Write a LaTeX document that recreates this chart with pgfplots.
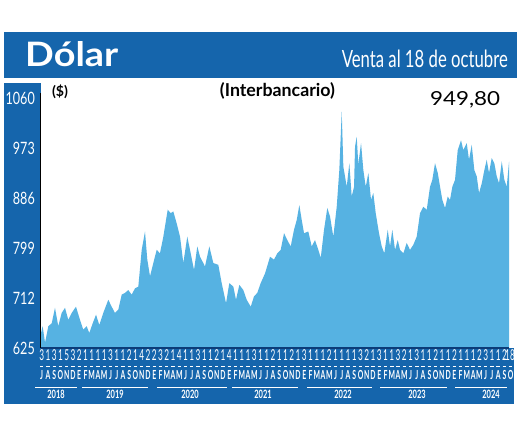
\documentclass[border=0pt]{standalone}
\usepackage{fontspec}
\setmainfont{Lato}
\usepackage{graphicx}
\usepackage{pgfplots}
\pgfplotsset{compat=1.18}
\newfontfamily\ylabfont{Lato}[FakeStretch=0.74]
\newfontfamily\rowfont{Lato}[FakeStretch=0.55]
\newfontfamily\yearfont{Lato}[FakeStretch=0.65]
\definecolor{bandblue}{RGB}{21,101,172}
\definecolor{areablue}{RGB}{86,178,226}
\definecolor{navyline}{RGB}{12,60,120}
\begin{document}
\begin{tikzpicture}
\path[use as bounding box, fill=white] (0,0) rectangle (520pt,-431pt);
\begin{scope}[x=1pt,y=-1pt]
 \fill[bandblue] (4,32) rectangle (517,77.5);
 \fill[bandblue] (3.5,82.5) rectangle (40.5,404);
 \fill[bandblue] (3.5,348) rectangle (514,404);
\end{scope}
\begin{axis}[at={(41pt,-348pt)}, anchor=south west, scale only axis,
  width=468pt, height=268pt, xmin=0, xmax=75.6, ymin=625, ymax=1092,
  xtick=\empty, ytick={625,712,799,886,973,1060},
  yticklabels={625,712,799,886,973,1060},
  yticklabel style={font=\ylabfont\fontsize{17}{17}\selectfont, text=white, inner sep=0pt, anchor=east, xshift=-6pt},
  major tick length=0pt, axis line style={draw=none}, clip=true]
\addplot[fill=areablue, draw=none] coordinates {
(0,651) (0.27,663) (0.65,634) (1.18,663) (1.73,668) (2.26,695) (2.79,663) (3.34,686)
(3.88,695) (4.41,674) (4.96,686) (5.65,697) (6.30,674) (6.83,657) (7.38,663) (7.80,651)
(8.35,668) (8.89,683) (9.42,665) (10.06,686) (10.87,709) (11.42,697) (11.95,686) (12.49,692)
(13.04,718) (13.57,721) (14.10,726) (14.65,718) (15.19,729) (15.72,732) (16.27,796) (16.80,828)
(17.17,779) (17.61,750) (18.14,773) (18.69,796) (19.22,790) (19.76,819) (20.47,866) (20.95,860)
(21.37,863) (21.92,842) (22.46,819) (22.99,773) (23.63,819) (24.07,796) (24.72,761) (25.25,802)
(25.69,784) (26.22,773) (26.49,767) (27.19,802) (27.84,773) (28.64,770) (29.19,738) (29.89,703)
(30.42,738) (31.07,732) (31.50,709) (32.04,735) (32.68,726) (33.23,709) (33.88,697) (34.41,715)
(34.94,721) (35.49,738) (36.19,755) (37.00,784) (37.64,779) (38.17,790) (38.72,796) (39.26,825)
(39.79,813) (40.34,802) (40.87,831) (41.31,848) (41.73,874) (42.12,848) (42.49,825) (43.18,828)
(43.73,802) (44.26,813) (44.80,796) (45.19,782) (45.72,831) (46.25,869) (46.69,854) (47.22,819)
(47.77,871) (48.19,935) (48.58,1037) (48.84,941) (49.39,906) (49.81,947) (50.19,889) (50.57,906)
(50.73,976) (51.00,993) (51.26,945) (51.70,982) (52.07,935) (52.46,906) (52.88,930) (53.31,883)
(53.68,895) (54.07,860) (54.60,825) (55.04,802) (55.46,790) (56.01,831) (56.38,802) (56.75,831)
(57.19,796) (57.63,813) (58.00,796) (58.53,790) (59.08,808) (59.61,796) (60.15,805) (60.69,819)
(61.23,860) (61.76,871) (62.31,866) (62.84,906) (63.21,918) (63.65,947) (64.09,930) (64.46,906)
(64.83,883) (65.27,869) (65.70,889) (66.07,883) (66.45,906) (66.88,918) (67.32,970) (67.85,987)
(68.22,970) (68.77,982) (69.14,953) (69.58,979) (70.00,935) (70.39,924) (70.76,895) (71.20,912)
(71.62,935) (72.00,953) (72.37,930) (72.81,956) (73.23,947) (73.62,924) (73.99,912) (74.43,950)
(74.85,918) (75.23,906) (75.61,949.8)
} \closedcycle;
\end{axis}
\begin{scope}[x=1pt,y=-1pt]
 \draw[black, line width=1pt] (40.8,93) -- (40.8,348);
 \draw[navyline, line width=1.5pt] (41,348) -- (509,348);
 \node[anchor=base west, inner sep=0, text=white] at (25,66.7) {\resizebox{93pt}{25pt}{\bfseries Dólar}};
 \node[anchor=base east, inner sep=0, text=white] at (508,67) {\resizebox{166pt}{17.5pt}{Venta al 18 de octubre}};
 \node[anchor=center, inner sep=0] at (60,91.5) {\resizebox{16pt}{!}{\bfseries (\$)}};
 \node[anchor=center, inner sep=0] at (277.5,91) {\resizebox{115pt}{!}{\bfseries (Interbancario)}};
 \node[anchor=base west, inner sep=0] at (430,106) {\resizebox{70pt}{14pt}{949,80}};
 % day row
 \foreach \d [count=\i from 0] in {3,1,3,1,5,3,
   2,1,1,1,1,3,1,1,2,1,4,2,
   2,3,2,1,4,1,1,3,1,1,2,1,
   4,1,1,1,3,1,1,2,1,1,2,1,
   3,1,1,1,2,1,1,1,1,3,2,1,
   3,1,1,3,2,1,3,1,1,2,1,1,
   2,1,1,1,2,3,1,1,2}
   {\node[text=white, inner sep=0, anchor=base] at ({41.7+\i*6.253},360.5) {\rowfont\fontsize{15}{15}\selectfont\d};}
 \node[text=white, inner sep=0, anchor=base east] at (515,360.5) {\rowfont\fontsize{15}{15}\selectfont .18};
 % dashes
 \foreach \i in {0,...,75} {\draw[white, line width=1pt] ({41.7+\i*6.253-1.7},366.5) -- ++(3.4,0);}
 % month letters
 \foreach \m [count=\i from 0] in {J,A,S,O,N,D,
   E,F,M,A,M,J,J,A,S,O,N,D,
   E,F,M,A,M,J,J,A,S,O,N,D,
   E,F,M,A,M,J,J,A,S,O,N,D,
   E,F,M,A,M,J,J,A,S,O,N,D,
   E,F,M,A,M,J,J,A,S,O,N,D,
   E,F,M,A,M,J,J,A,S,O}
   {\node[text=white, inner sep=0, anchor=base] at ({41.7+\i*6.253},379.5) {\rowfont\bfseries\fontsize{12.5}{12.5}\selectfont\m};}
 % year underlines
 \foreach \a/\b in {35/77,82/148,157/227,232/298,307/372,380/447,455/507}
   {\draw[white, line width=0.8pt] (\a,387.5) -- (\b,387.5);}
 \foreach \x/\y in {56/2018,115/2019,190/2020,263/2021,343/2022,417/2023,491/2024}
   {\node[text=white, inner sep=0, anchor=base] at (\x,398.5) {\yearfont\bfseries\fontsize{11.5}{11.5}\selectfont\y};}
\end{scope}
\end{tikzpicture}
\end{document}
